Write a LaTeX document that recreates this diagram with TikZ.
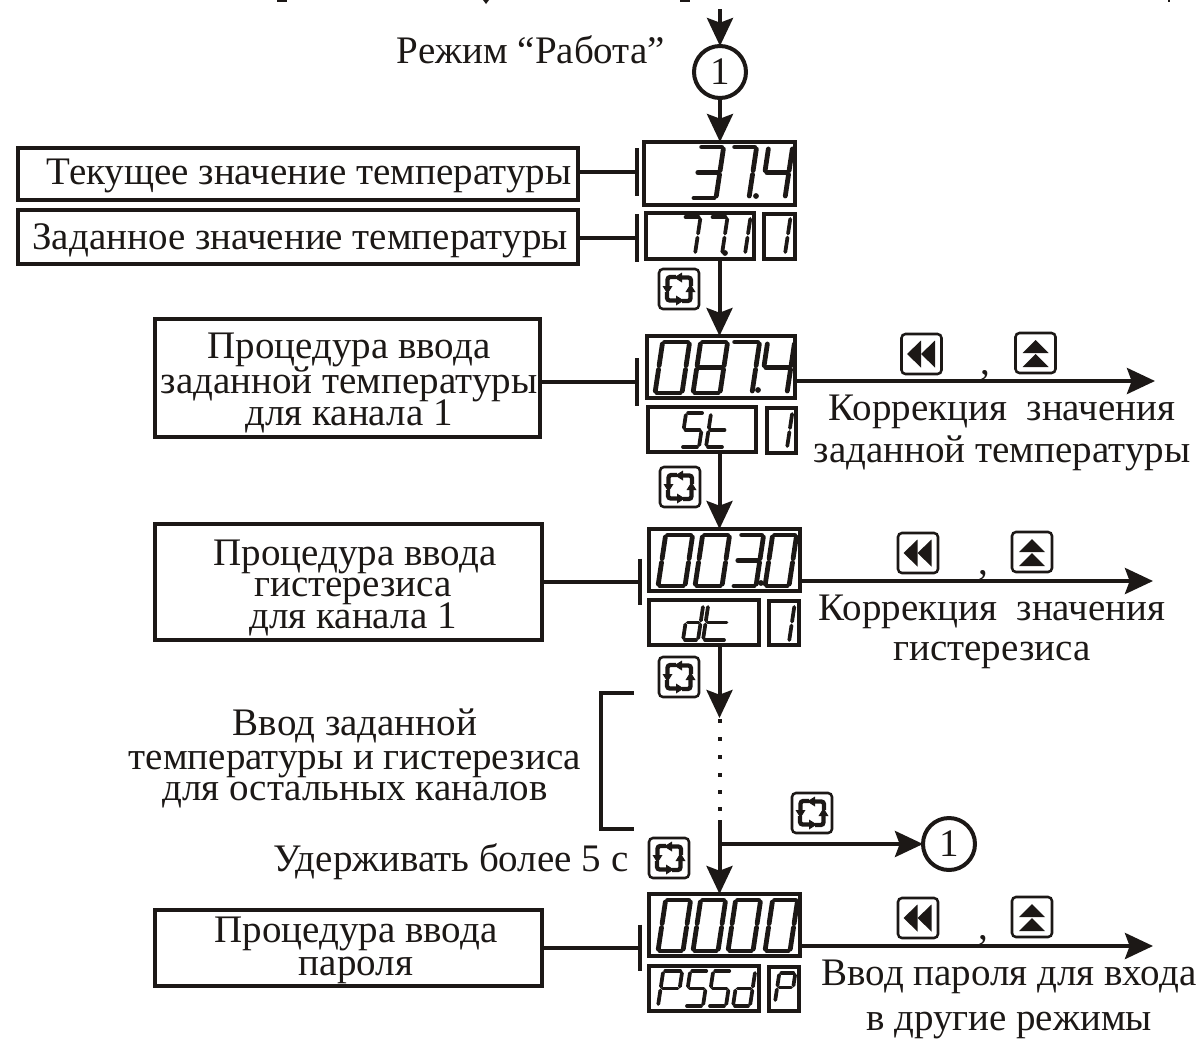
\documentclass[tikz,border=0pt]{standalone}
\usepackage{fontspec}
\setmainfont{Liberation Serif}
\usetikzlibrary{arrows.meta}
\definecolor{ink}{RGB}{28,24,22}
\newcommand{\tightlines}{\setlength{\lineskiplimit}{-50pt}}
\tikzset{
  every node/.style={text=ink},
  tbox/.style={draw=ink,line width=3.2pt,inner sep=0pt,outer sep=0pt},
  dbox/.style={draw=ink,line width=3.2pt,inner sep=0pt,outer sep=0pt},
  conn/.style={draw=ink,line width=3pt},
  barline/.style={draw=ink,line width=3.6pt},
  bracket/.style={draw=ink,line width=2.8pt},
  flow/.style={draw=ink,line width=3pt,-{Stealth[length=21pt,width=19.5pt,inset=3.5pt]}},
  marker/.style={draw=ink,circle,line width=3pt,minimum size=39pt,inner sep=0pt,outer sep=0pt,font=\fontsize{29.25}{24}\selectfont},
  lbl/.style={anchor=base,inner sep=0pt,align=center,font=\fontsize{29.25}{24}\selectfont,execute at begin node=\tightlines},
  keyframe/.style={draw=ink,rounded corners=3pt,line width=1.9pt,minimum width=30pt,minimum height=30pt,inner sep=0pt,outer sep=0pt},
}
% box from pixel corners
\newcommand{\bx}[6]{%
  \pgfmathsetmacro{\bw}{(#5-#3)*0.75}\pgfmathsetmacro{\bh}{(#6-#4)*0.75}%
  \node[#1,minimum width=\bw pt,minimum height=\bh pt] (#2) at ({(#3+#5)/2},{(#4+#6)/2}) {};}
% seven segment character
\newcommand{\ledsega}{\draw[ledstroke] (\G,-\H)--(\W-\G,-\H);}
\newcommand{\ledsegb}{\draw[ledstroke] (\W,-\H+\G)--(\W,-\H/2-\G);}
\newcommand{\ledsegc}{\draw[ledstroke] (\W,-\H/2+\G)--(\W,-\G);}
\newcommand{\ledsegd}{\draw[ledstroke] (\G,0)--(\W-\G,0);}
\newcommand{\ledsege}{\draw[ledstroke] (0,-\G)--(0,-\H/2+\G);}
\newcommand{\ledsegf}{\draw[ledstroke] (0,-\H/2-\G)--(0,-\H+\G);}
\newcommand{\ledsegg}{\draw[ledstroke] (\G,-\H/2)--(\W-\G,-\H/2);}
\newcommand{\ledchar}[6][3.6pt]{%
  \begin{scope}[shift={(#2,#3)},xslant=0.15,ledstroke/.style={draw=ink,line width=#1,line cap=round}]
    \def\W{#4}\def\H{#5}\def\G{2}%
    \foreach \s in {#6}{\csname ledseg\s\endcsname}
  \end{scope}}
\newcommand{\leddot}[2]{\fill[ink] (#1,#2) circle[radius=2.9];}
% key icons
\newcommand{\cyclekey}[3]{%
  \node[keyframe] (#1) at (#2,#3) {};
  \foreach \r in {0,90,180,270}{%
    \begin{scope}[shift={(#1.center)},rotate=\r]
      \draw[ink,line width=3.2pt,rounded corners=2pt] (12,-3)--(12,-11.5)--(2,-11.5);
      \fill[ink] (3,-16.5)--(-5,-11.5)--(3,-6.5)--cycle;
    \end{scope}}}
\newcommand{\rewkey}[3]{%
  \node[keyframe] (#1) at (#2,#3) {};
  \fill[ink] ([shift={(-14.5,0)}]#1.center)--++(14,-13.5)--++(0,27)--cycle;
  \fill[ink] ([shift={(-0.5,0)}]#1.center)--++(14,-13.5)--++(0,27)--cycle;}
\newcommand{\upkey}[3]{%
  \node[keyframe] (#1) at (#2,#3) {};
  \fill[ink] ([shift={(0,-13)}]#1.center)--++(13,13)--++(-26,0)--cycle;
  \fill[ink] ([shift={(0,1)}]#1.center)--++(13,13)--++(-26,0)--cycle;}
\begin{document}
\begin{tikzpicture}[x=0.75pt,y=-0.75pt]
\useasboundingbox (0,0) rectangle (1197,1040);
% clipped remains of a line of text on the top edge
\fill[ink] (277,0) rectangle (287,2);
\fill[ink] (483,0) -- (489,0) -- (486,4) -- cycle;
\fill[ink] (680,0) rectangle (690,2);
\fill[ink] (1168,0) rectangle (1170,2);
% text boxes
\bx{tbox}{L1}{18}{148}{578}{200}
\bx{tbox}{L2}{18}{210}{578}{264}
\bx{tbox}{L3}{155}{319}{540}{437}
\bx{tbox}{L4}{155}{524}{542}{640}
\bx{tbox}{L5}{155}{910}{542}{986}
% display boxes
\bx{dbox}{A1}{644}{142}{795}{205}
\bx{dbox}{A2}{646}{213}{754}{259}
\bx{dbox}{A3}{764}{214}{795}{259}
\bx{dbox}{B1}{647}{336}{795}{398}
\bx{dbox}{B2}{648}{407}{756}{452}
\bx{dbox}{B3}{767}{408}{796}{453}
\bx{dbox}{C1}{649}{529}{800}{591}
\bx{dbox}{C2}{649}{600}{759}{645}
\bx{dbox}{C3}{769}{601}{799}{645}
\bx{dbox}{D1}{649}{894}{800}{956}
\bx{dbox}{D2}{649}{966}{759}{1011}
\bx{dbox}{D3}{769}{967}{799}{1011}
% markers
\node[marker] (M1) at (720,72) {1};
\node[marker] (M2) at (949,844) {1};
% free ends
\coordinate (ax) at (719.5,0);
\coordinate (start) at (720,9);
\coordinate (bar1) at (637,172);
\coordinate (bar2) at (637,238);
\coordinate (bar3) at (637,382);
\coordinate (bar4) at (640,582);
\coordinate (bar5) at (640,948);
\coordinate (r3) at (1155,381);
\coordinate (r4) at (1153,581);
\coordinate (r5) at (1153,946);
\coordinate (t3) at (719.5,718);
\coordinate (s5) at (719.5,820);
\coordinate (j5) at (719.5,844);
% connectors
\draw[flow] (start) -- (M1.north);
\draw[flow] (M1.south) -- (A1.north -| M1.south);
\draw[flow] (A2.south -| ax) -- (B1.north -| ax);
\draw[flow] (B2.south -| ax) -- (C1.north -| ax);
\draw[flow] (C2.south -| ax) -- (t3);
\draw[flow] (s5) -- (D1.north -| ax);
\draw[flow] (j5) -- (M2.west);
\draw[flow] (r3 -| B1.east) -- (r3);
\draw[flow] (r4 -| C1.east) -- (r4);
\draw[flow] (r5 -| D1.east) -- (r5);
\draw[conn] (bar1 -| L1.east) -- (bar1);
\draw[conn] (bar2 -| L2.east) -- (bar2);
\draw[conn] (bar3 -| L3.east) -- (bar3);
\draw[conn] (bar4 -| L4.east) -- (bar4);
\draw[conn] (bar5 -| L5.east) -- (bar5);
\draw[barline] ([yshift=18pt]bar1) -- ([yshift=-18pt]bar1);
\draw[barline] ([yshift=18pt]bar2) -- ([yshift=-18pt]bar2);
\draw[barline] ([yshift=18pt]bar3) -- ([yshift=-18pt]bar3);
\draw[barline] ([yshift=17.5pt]bar4) -- ([yshift=-17.5pt]bar4);
\draw[barline] ([yshift=17.5pt]bar5) -- ([yshift=-17.5pt]bar5);
% dots
\foreach \d in {721,739,757,775,792,809} \fill[ink] (717.5,\d-2) rectangle (721.5,\d+2);
% bracket
\draw[bracket] (634,693) -- (601,693) -- (601,829) -- (634,829);
% labels
\node[lbl] (tmode) at (531,63) {Режим “Работа”};
\node[lbl] (t1) at (309,184) {Текущее значение температуры};
\node[lbl] (t2) at (300,249) {Заданное значение температуры};
\node[lbl] (t3a) at (349,425) {Процедура ввода\\[2.25pt]заданной температуры\\для канала 1};
\node[lbl] (t4a) at (353,628) {Процедура ввода\hspace*{-3pt}\\[-0.75pt]гистерезиса\hspace*{7pt}\\для канала 1};
\node[lbl] (t5a) at (356,975) {Процедура ввода\\[0.75pt]пароля};
\node[lbl] (t6a) at (355,800) {Ввод заданной\\[1.5pt]температуры и гистерезиса\\[-0.75pt]для остальных каналов};
\node[lbl] (t7) at (451,871) {Удерживать более 5 с};
\node[lbl] (t8a) at (1002,462) {Коррекция\ \ значения\\[7.5pt]заданной температуры};
\node[lbl] (t9a) at (992,660) {Коррекция\ \ значения\\[6pt]гистерезиса};
\node[lbl] (t10a) at (1009,1030) {Ввод пароля для входа\\[9.75pt]в другие режимы};
\node[lbl] (c3) at (985,374) {,};
\node[lbl] (c4) at (983,574) {,};
\node[lbl] (c5) at (983,939) {,};
% keys
\cyclekey{K1}{679}{289}
\cyclekey{K2}{680}{487}
\cyclekey{K3}{679}{677}
\cyclekey{K4}{812}{813}
\cyclekey{K5}{669}{858}
\rewkey{R3}{921.5}{354}
\upkey{U3}{1035.5}{353}
\rewkey{R4}{918}{553}
\upkey{U4}{1032}{552}
\rewkey{R5}{918}{918}
\upkey{U5}{1032}{917}
% seven-segment digits
\ledchar{692}{198}{24}{51}{a,b,c,d,g}
\ledchar{725}{198}{24}{51}{a,b,c}
\ledchar{761}{198}{24}{51}{f,g,b,c}
\leddot{756}{196}
\ledchar[2.8pt]{678}{254}{17}{37}{a,b,c}
\ledchar[2.8pt]{705}{254}{17}{37}{a,b,c}
\ledchar[2.8pt]{728}{254}{17}{37}{b,c}
\ledchar[2.8pt]{775}{254}{10}{37}{b,c}
\leddot{725}{253}
\ledchar{655}{393}{27}{51}{a,b,c,d,e,f}
\ledchar{693}{393}{27}{51}{a,b,c,d,e,f,g}
\ledchar{725}{393}{27}{51}{a,b,c}
\ledchar{760}{393}{27}{51}{f,g,b,c}
\leddot{758}{390}
\ledchar[2.8pt]{681}{447}{18}{34}{a,f,g,c,d}
\ledchar[2.8pt]{706}{447}{18}{34}{f,e,g,d}
\ledchar[2.8pt]{777}{448}{10}{36}{b,c}
\ledchar{658}{586}{27}{51}{a,b,c,d,e,f}
\ledchar{695}{586}{27}{51}{a,b,c,d,e,f}
\ledchar{732}{586}{24}{51}{a,b,c,d,g}
\ledchar{765}{586}{24}{51}{a,b,c,d,e,f}
\leddot{761}{583}
\ledchar[2.8pt]{683}{640}{15}{35}{b,c,d,e,g}
\ledchar[2.8pt]{703}{640}{23}{35}{f,e,g,d}
\ledchar[2.8pt]{779}{642}{10}{37}{b,c}
\ledchar{658}{951}{25}{51}{a,b,c,d,e,f}
\ledchar{693}{951}{25}{51}{a,b,c,d,e,f}
\ledchar{728}{951}{25}{51}{a,b,c,d,e,f}
\ledchar{765}{951}{25}{51}{a,b,c,d,e,f}
\ledchar[2.8pt]{658}{1006}{19}{35}{a,b,g,f,e}
\ledchar[2.8pt]{685}{1006}{18}{35}{a,f,g,c,d}
\ledchar[2.8pt]{708}{1006}{18}{35}{a,f,g,c,d}
\ledchar[2.8pt]{733}{1006}{17}{35}{b,c,d,e,g}
\ledchar[2.8pt]{775}{1002}{16}{29}{a,b,g,f,e}
\end{tikzpicture}
\end{document}
